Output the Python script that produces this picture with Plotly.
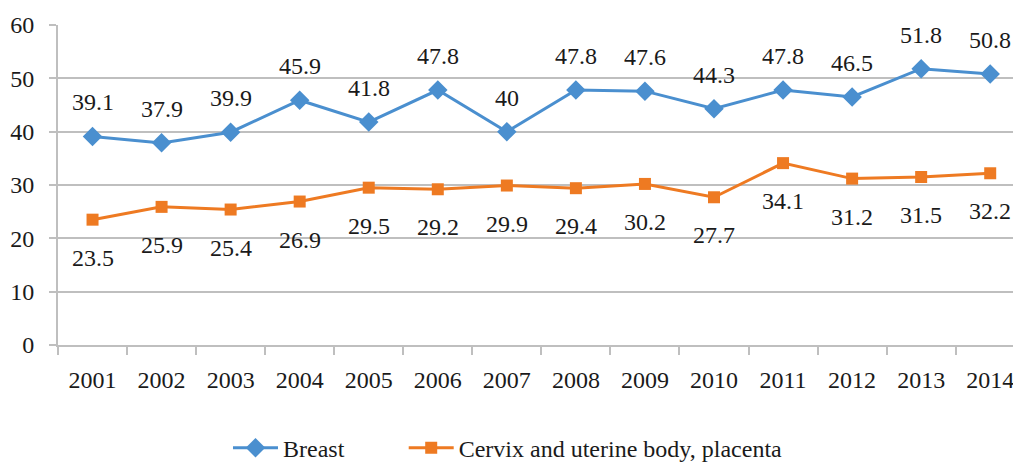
import plotly.graph_objects as go

years = ["2001", "2002", "2003", "2004", "2005", "2006", "2007",
         "2008", "2009", "2010", "2011", "2012", "2013", "2014"]
breast = [39.1, 37.9, 39.9, 45.9, 41.8, 47.8, 40, 47.8, 47.6, 44.3, 47.8, 46.5, 51.8, 50.8]
cervix = [23.5, 25.9, 25.4, 26.9, 29.5, 29.2, 29.9, 29.4, 30.2, 27.7, 34.1, 31.2, 31.5, 32.2]

BLUE = "#4A8FCF"
ORANGE = "#EE7A22"
FONT = "Liberation Serif"
TXT = "#1a1a1a"

fig = go.Figure()
fig.add_trace(go.Scatter(
    x=years, y=breast, name="Breast", mode="lines+markers",
    line=dict(color=BLUE, width=3),
    marker=dict(symbol="diamond", size=15, color=BLUE),
    legend="legend",
))
fig.add_trace(go.Scatter(
    x=years, y=cervix, name="Cervix and uterine body, placenta", mode="lines+markers",
    line=dict(color=ORANGE, width=3),
    marker=dict(symbol="square", size=12, color=ORANGE),
    legend="legend2",
))

# value labels: above the breast line, below the cervix line
for i, v in enumerate(breast):
    fig.add_annotation(x=i, y=v, xref="x", yref="y", text=f"{v:g}", showarrow=False,
                       yshift=34, font=dict(family=FONT, size=24, color=TXT))
for i, v in enumerate(cervix):
    fig.add_annotation(x=i, y=v, xref="x", yref="y", text=f"{v:g}", showarrow=False,
                       yshift=-38, font=dict(family=FONT, size=24, color=TXT))

legend_style = dict(orientation="h", xanchor="left", xref="paper",
                    y=-0.252, yanchor="top", font=dict(family=FONT, size=24, color=TXT),
                    itemwidth=45, bgcolor="rgba(0,0,0,0)")

fig.update_layout(
    width=1013, height=464,
    margin=dict(l=58, r=0, t=25, b=119, autoexpand=False),
    paper_bgcolor="white", plot_bgcolor="white",
    font=dict(family=FONT, size=24, color=TXT),
    showlegend=True,
    legend=dict(x=0.178, **legend_style),
    legend2=dict(x=0.362, **legend_style),
)
fig.update_xaxes(
    type="category", range=[-0.5, 13.33],
    showgrid=False, showline=True, linecolor="#BFBFBF", linewidth=2,
    ticks="outside", tickson="boundaries", ticklen=8, tickcolor="#BFBFBF", tickwidth=2,
    tickfont=dict(family=FONT, size=24, color=TXT), ticklabelstandoff=12,
)
fig.update_yaxes(
    range=[0, 60], dtick=10,
    showgrid=True, gridcolor="#BFBFBF", gridwidth=1.5,
    showline=True, linecolor="#BFBFBF", linewidth=2,
    ticks="outside", ticklen=7, tickcolor="#BFBFBF", tickwidth=1.5,
    tickfont=dict(family=FONT, size=24, color=TXT), ticklabelstandoff=10,
    zeroline=False,
)

fig.write_html("out.html")
